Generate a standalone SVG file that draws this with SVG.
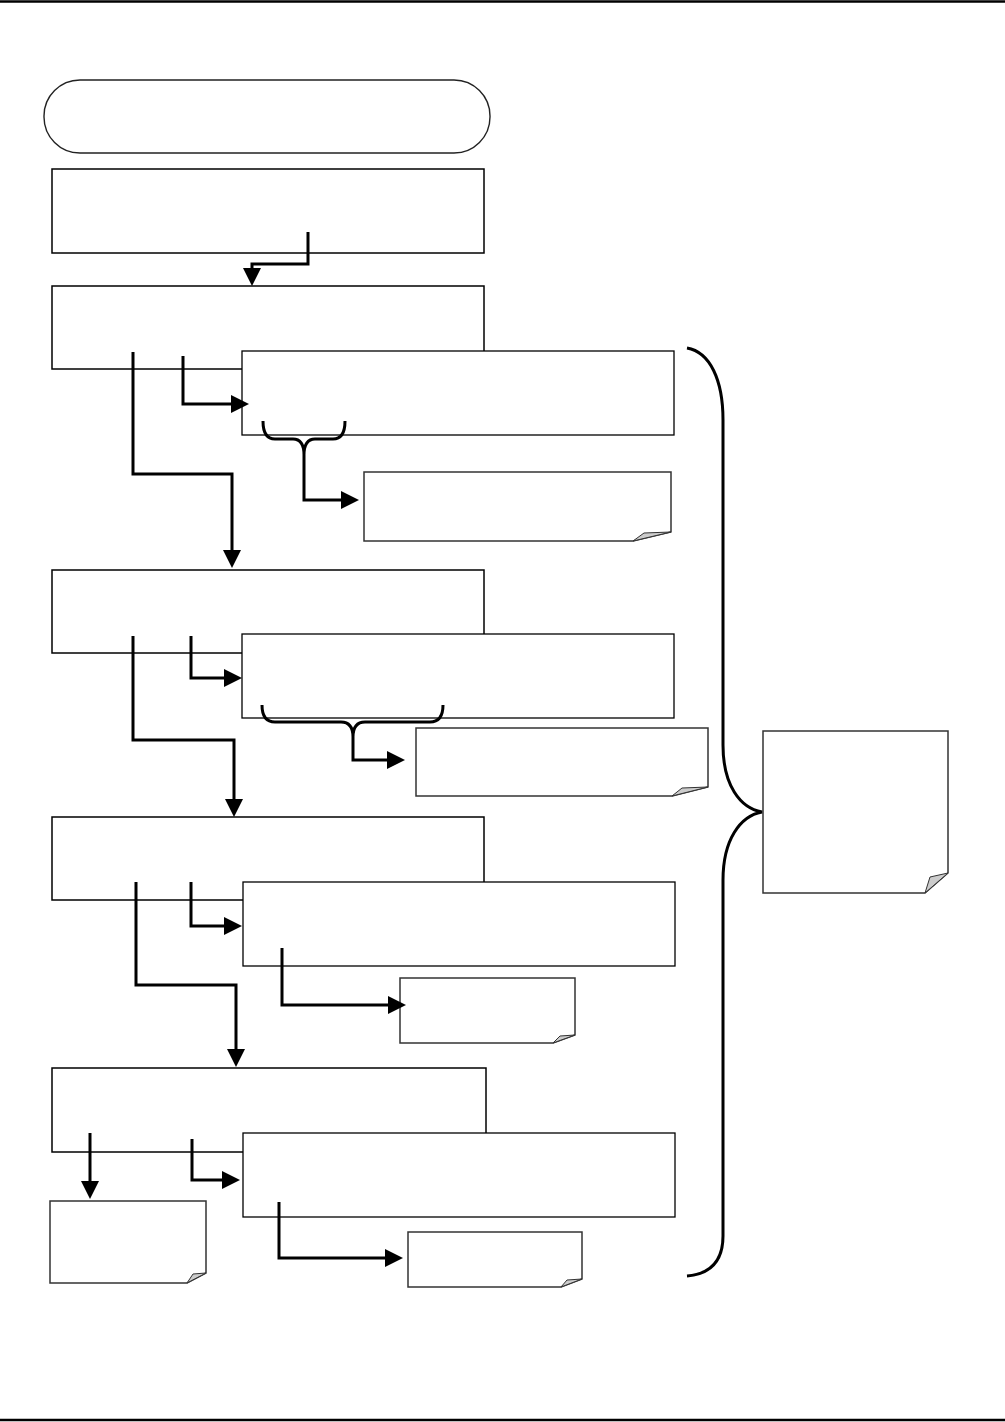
<svg xmlns="http://www.w3.org/2000/svg" width="1005" height="1422" viewBox="0 0 1005 1422">
<style>
.bg{fill:#ffffff}
.rule{stroke:#000;stroke-width:2.5;fill:none}
.pill{fill:#fff;stroke:#222;stroke-width:1.4}
.box{fill:#fff;stroke:#000;stroke-width:1.5}
.sub{fill:#fff;stroke:#000;stroke-width:1.3}
.note{fill:#fff;stroke:#333;stroke-width:1.5;stroke-linejoin:miter}
.curl{fill:#cccccc;stroke:#333;stroke-width:1}
.conn{fill:none;stroke:#000;stroke-width:3;stroke-linejoin:miter}
.brace{fill:none;stroke:#000;stroke-width:3}
</style>
<defs>
<marker id="ah" viewBox="0 0 18 18" refX="12" refY="9" markerWidth="18" markerHeight="18" orient="auto" markerUnits="userSpaceOnUse">
<path d="M0,0 L18,9 L0,18 Z" fill="#000"/>
</marker>
</defs>
<rect class="bg" x="0" y="0" width="1005" height="1422"/>
<line class="rule" x1="0" y1="1.5" x2="1005" y2="1.5"/>
<line class="rule" x1="0" y1="1420" x2="1005" y2="1420"/>

<g id="start"><rect class="pill" x="44" y="80" width="446" height="73" rx="36" ry="36"/></g>
<g id="box1"><rect class="box" x="52" y="169" width="432" height="84"/></g>
<g id="box2"><rect class="box" x="52" y="286" width="432" height="83"/></g>
<g id="box3"><rect class="sub" x="242" y="351" width="432" height="84"/></g>
<g id="note1"><path class="note" d="M364,472 H671 V532 L633,541 H364 Z"/><path class="curl" d="M633,541 L644,533 L671,532 Z"/></g>
<g id="box4"><rect class="box" x="52" y="570" width="432" height="83"/></g>
<g id="box5"><rect class="sub" x="242" y="634" width="432" height="84"/></g>
<g id="note2"><path class="note" d="M416,728 H708 V787 L672,796 H416 Z"/><path class="curl" d="M672,796 L682,788 L708,787 Z"/></g>
<g id="box6"><rect class="box" x="52" y="817" width="432" height="83"/></g>
<g id="box7"><rect class="sub" x="243" y="882" width="432" height="84"/></g>
<g id="note3"><path class="note" d="M400,978 H575 V1035 L553,1043 H400 Z"/><path class="curl" d="M553,1043 L560,1036 L575,1035 Z"/></g>
<g id="box8"><rect class="box" x="52" y="1068" width="434" height="84"/></g>
<g id="box9"><rect class="sub" x="243" y="1133" width="432" height="84"/></g>
<g id="note4"><path class="note" d="M50,1201 H206 V1273 L187,1283 H50 Z"/><path class="curl" d="M187,1283 L193,1274 L206,1273 Z"/></g>
<g id="note5"><path class="note" d="M408,1232 H582 V1279 L561,1287 H408 Z"/><path class="curl" d="M561,1287 L567,1280 L582,1279 Z"/></g>
<g id="note6"><path class="note" d="M763,731 H948 V873 L925,893 H763 Z"/><path class="curl" d="M925,893 L930,877 L948,873 Z"/></g>

<g id="connectors">
<path class="conn" d="M308,232 V264 H252 V280" marker-end="url(#ah)"/>
<path class="conn" d="M183,356 V404 H243" marker-end="url(#ah)"/>
<path class="conn" d="M133,352 V474 H232 V562" marker-end="url(#ah)"/>
<path class="brace" d="M263,421 Q263,439 275,439 H293 Q304,439 304,455 Q304,439 315,439 H333 Q345,439 345,421"/>
<path class="conn" d="M304,455 V500 H353" marker-end="url(#ah)"/>
<path class="conn" d="M191,636 V678 H236" marker-end="url(#ah)"/>
<path class="conn" d="M133,636 V740 H234 V811" marker-end="url(#ah)"/>
<path class="brace" d="M262,705 Q262,722 275,722 H341 Q353,722 353,737 Q353,722 365,722 H430 Q443,722 443,705"/>
<path class="conn" d="M353,737 V760 H399" marker-end="url(#ah)"/>
<path class="conn" d="M191,882 V926 H236" marker-end="url(#ah)"/>
<path class="conn" d="M136,882 V985 H236 V1061" marker-end="url(#ah)"/>
<path class="conn" d="M282,948 V1005 H400" marker-end="url(#ah)"/>
<path class="conn" d="M90,1133 V1193" marker-end="url(#ah)"/>
<path class="conn" d="M192,1139 V1180 H234" marker-end="url(#ah)"/>
<path class="conn" d="M279,1202 V1258 H397" marker-end="url(#ah)"/>
<path class="brace" d="M687,348 C710,352 723,380 723,420 V745 C723,785 740,808 762,812 C740,816 723,840 723,880 V1236 C723,1262 710,1274 687,1276"/>
</g>
</svg>
